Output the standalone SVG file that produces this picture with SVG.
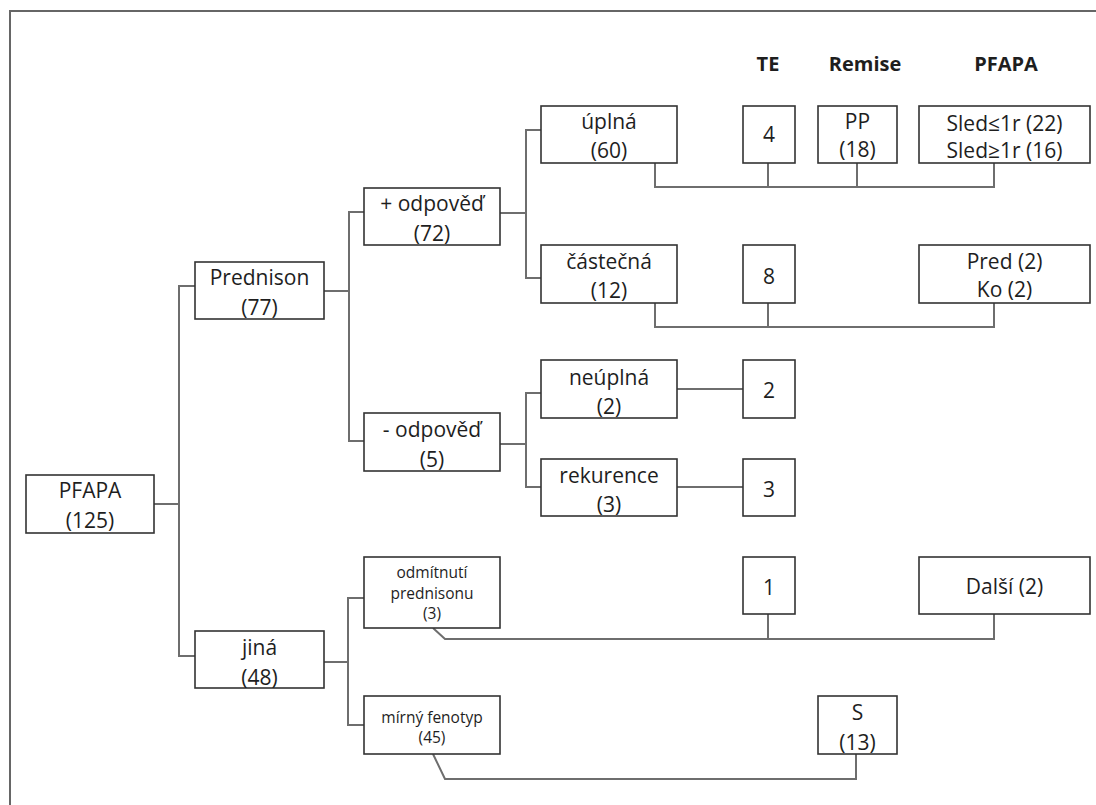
<svg xmlns="http://www.w3.org/2000/svg" width="1096" height="805" viewBox="0 0 1096 805">
<style>
.bg{fill:#fff}
.frame{fill:none;stroke:#666;stroke-width:2}
.box{fill:#fff;stroke:#333;stroke-width:1.6}
.c{fill:none;stroke:#6e6e6e;stroke-width:2}
text{font-family:"Open Sans","Noto Sans","Liberation Sans",sans-serif;fill:#1e1e1e;text-anchor:middle}
.t{font-size:21px}
.s{font-size:15.5px}
.h{font-size:20px;font-weight:bold}
</style>
<rect class="bg" x="0" y="0" width="1096" height="805"/>
<path class="frame" d="M10,805 V11 H1096"/>
<g id="connectors">
<path class="c" d="M154,504 H179 M195,286 H179 V656 H195"/>
<path class="c" d="M324,291 H349 M364,212 H349 V441 H364"/>
<path class="c" d="M500,213 H526 M541,130 H526 V278 H541"/>
<path class="c" d="M500,444 H526 M541,393 H526 V487 H541"/>
<path class="c" d="M324,662 H348 M364,598 H348 V725 H364"/>
<path class="c" d="M655,163 V187 H994 V163 M768,187 V163 M857,187 V163"/>
<path class="c" d="M655,303 V327 H994 V303 M768,327 V303"/>
<path class="c" d="M677,389 H743 M677,487 H743"/>
<path class="c" d="M433,628 L445,639 H994 V614 M768,639 V614"/>
<path class="c" d="M433,754 L445,779 H856 V754"/>
</g>
<g id="headers">
<text class="h" x="768" y="71">TE</text>
<text class="h" x="865" y="71">Remise</text>
<text class="h" x="1006" y="71">PFAPA</text>
</g>
<g id="n-pfapa"><rect class="box" x="26" y="475" width="128" height="58"/><text class="t" x="90" y="498">PFAPA</text><text class="t" x="90" y="528">(125)</text></g>
<g id="n-prednison"><rect class="box" x="195" y="262" width="129" height="57"/><text class="t" x="259.5" y="285">Prednison</text><text class="t" x="259.5" y="315">(77)</text></g>
<g id="n-jina"><rect class="box" x="195" y="631" width="129" height="57"/><text class="t" x="259.5" y="655">jiná</text><text class="t" x="259.5" y="685">(48)</text></g>
<g id="n-plus"><rect class="box" x="364" y="188" width="136" height="57"/><text class="t" x="432" y="211">+ odpověď</text><text class="t" x="432" y="241">(72)</text></g>
<g id="n-minus"><rect class="box" x="364" y="413" width="136" height="58"/><text class="t" x="432" y="437">- odpověď</text><text class="t" x="432" y="467">(5)</text></g>
<g id="n-odmitnuti"><rect class="box" x="364" y="557" width="136" height="71"/><text class="s" x="432" y="578">odmítnutí</text><text class="s" x="432" y="599">prednisonu</text><text class="s" x="432" y="619">(3)</text></g>
<g id="n-mirny"><rect class="box" x="364" y="696" width="136" height="58"/><text class="s" x="432" y="723">mírný fenotyp</text><text class="s" x="432" y="743">(45)</text></g>
<g id="n-uplna"><rect class="box" x="541" y="106" width="136" height="57"/><text class="t" x="609" y="129">úplná</text><text class="t" x="609" y="158">(60)</text></g>
<g id="n-castecna"><rect class="box" x="541" y="245" width="136" height="58"/><text class="t" x="609" y="269">částečná</text><text class="t" x="609" y="298">(12)</text></g>
<g id="n-neuplna"><rect class="box" x="541" y="360" width="136" height="58"/><text class="t" x="609" y="385">neúplná</text><text class="t" x="609" y="414">(2)</text></g>
<g id="n-rekurence"><rect class="box" x="541" y="459" width="136" height="57"/><text class="t" x="609" y="483">rekurence</text><text class="t" x="609" y="512">(3)</text></g>
<g id="n-te4"><rect class="box" x="743" y="106" width="52" height="57"/><text class="t" x="769" y="142">4</text></g>
<g id="n-te8"><rect class="box" x="743" y="245" width="52" height="58"/><text class="t" x="769" y="284">8</text></g>
<g id="n-te2"><rect class="box" x="743" y="360" width="52" height="58"/><text class="t" x="769" y="398">2</text></g>
<g id="n-te3"><rect class="box" x="743" y="459" width="52" height="57"/><text class="t" x="769" y="497">3</text></g>
<g id="n-te1"><rect class="box" x="743" y="557" width="52" height="57"/><text class="t" x="769" y="595">1</text></g>
<g id="n-pp"><rect class="box" x="818" y="106" width="79" height="57"/><text class="t" x="857.5" y="129">PP</text><text class="t" x="857.5" y="157">(18)</text></g>
<g id="n-s"><rect class="box" x="818" y="696" width="79" height="58"/><text class="t" x="857.5" y="720">S</text><text class="t" x="857.5" y="750">(13)</text></g>
<g id="n-sled"><rect class="box" x="919" y="106" width="171" height="57"/><text class="t" x="1004.5" y="131">Sled≤1r (22)</text><text class="t" x="1004.5" y="158">Sled≥1r (16)</text></g>
<g id="n-pred"><rect class="box" x="919" y="245" width="171" height="58"/><text class="t" x="1004.5" y="269">Pred (2)</text><text class="t" x="1004.5" y="297">Ko (2)</text></g>
<g id="n-dalsi"><rect class="box" x="919" y="557" width="171" height="57"/><text class="t" x="1004.5" y="594">Další (2)</text></g>
</svg>
